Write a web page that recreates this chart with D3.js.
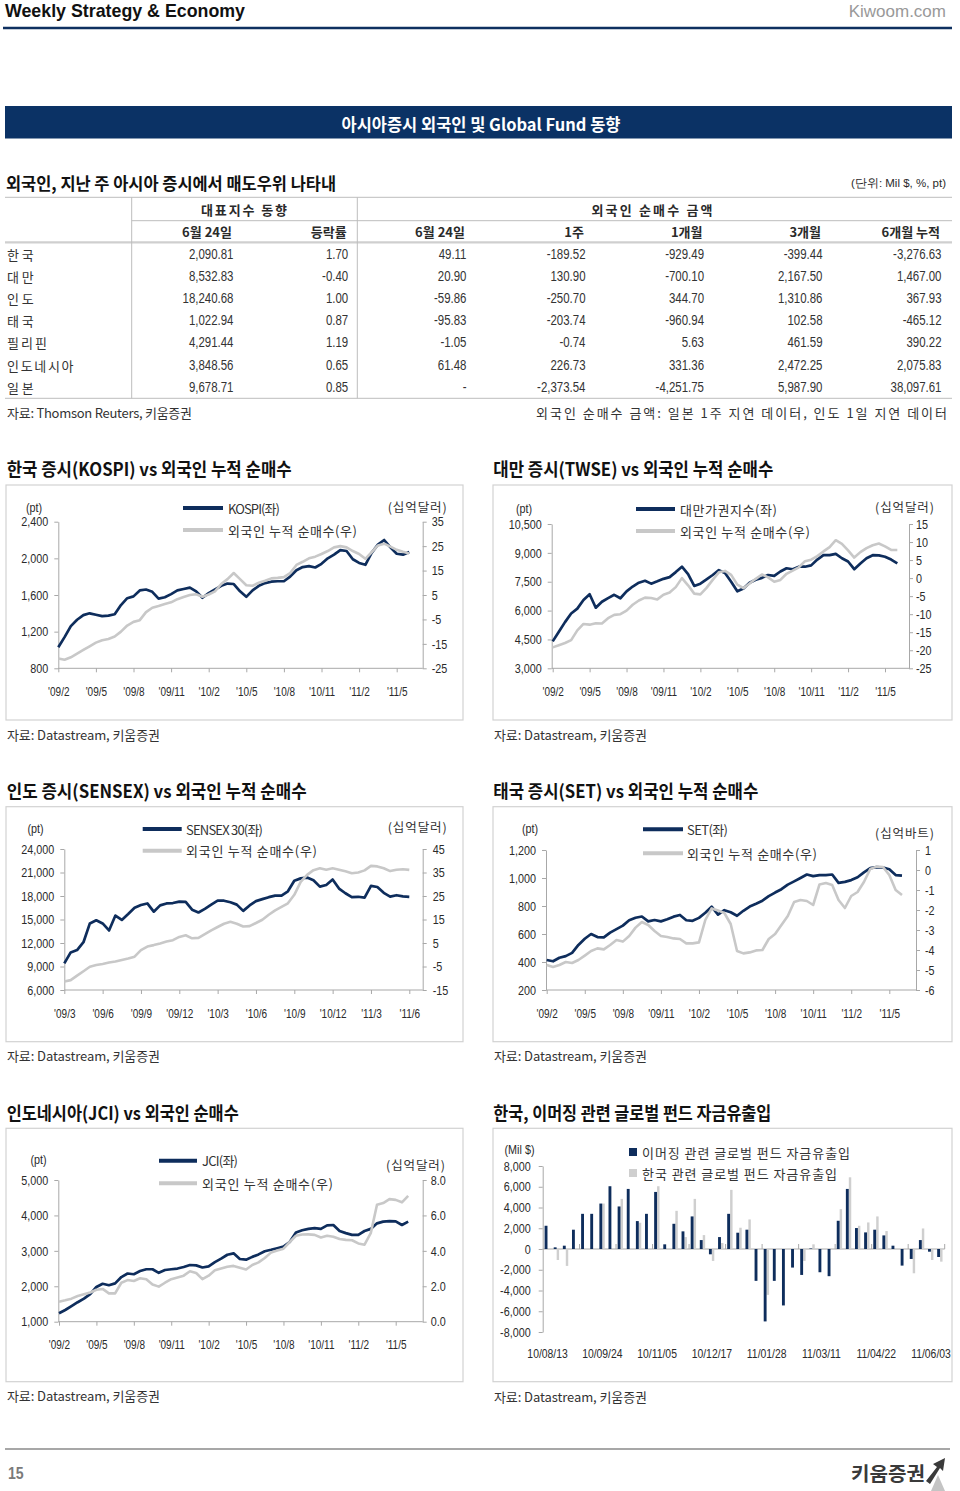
<!DOCTYPE html>
<html><head><meta charset="utf-8">
<script src="https://cdn.jsdelivr.net/npm/d3@7"></script>
<style>html,body{margin:0;padding:0;background:#fff}svg{display:block}</style>
</head><body>
<script>
// ---------------- DATA ----------------
const tableCountries = ['한국','대만','인도','태국','필리핀','인도네시아','일본'];
const tableIndexLevel = [2090.81, 8532.83, 18240.68, 1022.94, 4291.44, 3848.56, 9678.71];
const tableChange = [1.70, -0.40, 1.00, 0.87, 1.19, 0.65, 0.85];
const flowDay = [49.11, 20.90, -59.86, -95.83, -1.05, 61.48, null];
const flow1w = [-189.52, 130.90, -250.70, -203.74, -0.74, 226.73, -2373.54];
const flow1m = [-929.49, -700.10, 344.70, -960.94, 5.63, 331.36, -4251.75];
const flow3m = [-399.44, 2167.50, 1310.86, 102.58, 461.59, 2472.25, 5987.90];
const flow6m = [-3276.63, 1467.00, 367.93, -465.12, 390.22, 2075.83, 38097.61];

const ticksFeb = ["'09/2","'09/5","'09/8","'09/11","'10/2","'10/5","'10/8","'10/11","'11/2","'11/5"];
const ticksMar = ["'09/3","'09/6","'09/9","'09/12","'10/3","'10/6","'10/9","'10/12","'11/3","'11/6"];

// half-month samples, starting at first tick month
const kospi = [1030,1140,1260,1330,1380,1400,1385,1370,1375,1390, 1490,1565,1585,1650,1660,1635,1560,1575,1610,1650, 1665,1680,1640,1570,1620,1660,1700,1725,1720,1640, 1580,1650,1700,1730,1745,1750,1750,1800,1870,1905, 1915,1900,1940,2000,2040,2090,2080,1990,1950,1930, 2060,2150,2200,2120,2050,2040,2070];
const kospiForeign = [-21,-21.5,-20.5,-19,-17.5,-16,-14.5,-13.5,-13,-12, -10,-7.5,-6,-5.3,-2,-0.2,0.5,1.3,2,3.3, 4.2,5.0,5.3,4.3,5.2,6.5,9.5,11.5,14,11.5, 9,8.8,10,10.8,11.8,12,12.3,14,17.3,18.6, 20,20.7,21.8,23,24.5,25,24.5,23,21.8,19.8, 22.5,25.3,26,24.8,23.5,22.7,22];

const twse = [4400,4900,5400,5850,6100,6550,6850,6150,6460,6650, 6820,6640,7000,7250,7450,7550,7400,7520,7650,7740, 8000,8280,7900,7280,7400,7620,7850,8100,7950,7500, 7000,7150,7450,7600,7700,7850,7800,8030,8200,8150, 8280,8280,8350,8650,8880,8880,8950,8720,8550,8150, 8450,8720,8880,8870,8800,8650,8450];
const twseForeign = [-19.2,-18.6,-18.0,-17.2,-14.5,-12.7,-12.9,-12.5,-12.6,-11.1, -10.2,-10.0,-9.0,-7.4,-6.2,-5.4,-5.5,-5.9,-4.6,-4.0, -2.5,0.0,-2.0,-4.3,-4.5,-2.7,-0.5,1.6,2.0,0.9, -1.8,-2.8,-1.5,-0.2,1.0,0.2,-1.0,-0.5,1.2,2.1, 3.0,4.7,5.1,6.1,7.4,8.6,10.5,9.5,7.7,5.7, 7.2,8.3,9.1,9.6,8.8,7.8,7.8];

const sensex = [9400,10800,11100,12100,14500,14900,14500,13600,15500,14950, 15700,16500,16850,17050,16000,16800,17050,17100,17280,17250, 16250,15900,16350,16900,17400,17400,17200,16900,16100,16800, 17350,17600,17850,18050,18050,18600,19950,20250,20350,20000, 19200,19400,20100,18950,18350,17850,17900,17800,19300,19150, 18400,17920,18100,17950,17900];
const sensexForeign = [-11.4,-10.8,-8.9,-7.0,-5.1,-4.4,-3.9,-3.3,-2.9,-2.2, -1.6,-0.8,2.0,3.5,4.1,4.8,5.6,6.2,7.6,8.3, 7.0,7.2,8.8,10.4,11.8,13.2,14.0,13.2,12.0,12.2, 13.5,14.9,17.0,18.9,20.4,21.9,25.5,31.0,34.0,36.0, 36.8,36.2,36.8,36.2,35.5,34.7,35.0,35.9,37.8,37.6, 36.8,35.6,36.2,36.4,36.1];

const setIndex = [414,405,430,442,465,522,566,600,578,576, 610,635,660,698,716,725,690,700,690,705, 724,736,698,694,715,752,795,738,770,755, 730,766,796,816,838,870,896,920,953,976, 1000,1025,1013,1021,1021,1025,965,972,985,1005, 1040,1070,1078,1075,1062,1021,1017];
const setForeign = [-4.75,-4.85,-4.75,-4.6,-4.65,-4.5,-4.28,-4.05,-3.92,-3.97, -3.75,-3.5,-3.58,-3.3,-2.88,-2.6,-2.75,-3.05,-3.3,-3.35, -3.42,-3.45,-3.67,-3.67,-3.62,-2.5,-1.92,-2.02,-2.15,-2.7, -4.05,-4.17,-4.12,-4.02,-4.0,-3.45,-3.2,-2.75,-2.3,-1.6, -1.5,-1.55,-1.75,-0.72,-0.65,-0.75,-1.5,-1.9,-1.3,-1.1, -0.6,0.05,0.17,0.15,-0.25,-1.0,-1.25];

const jci = [1240,1330,1440,1550,1650,1780,1980,2070,2030,2083, 2260,2360,2340,2430,2480,2480,2380,2460,2480,2500, 2545,2600,2590,2530,2560,2680,2780,2890,2930,2770, 2750,2830,2900,2990,3030,3075,3120,3250,3520,3580, 3620,3640,3620,3720,3730,3560,3500,3450,3450,3560, 3620,3777,3824,3840,3830,3730,3824];
const jciForeign = [1.13,1.21,1.3,1.45,1.55,1.65,1.8,1.85,1.6,1.6, 2.2,2.35,2.3,2.45,2.4,2.1,1.98,2.2,2.4,2.5, 2.6,2.85,2.75,2.4,2.6,2.9,3.0,3.1,3.15,3.05, 2.95,3.2,3.35,3.6,3.9,4.02,4.12,4.5,4.85,4.92, 4.93,4.9,4.75,4.85,4.8,4.67,4.62,4.6,4.42,4.35, 5.0,6.6,6.7,6.92,6.88,6.74,7.1];

const fundWeeks = ['10/08/13','10/08/20','10/08/27','10/09/03','10/09/10','10/09/17','10/09/24','10/10/01','10/10/08','10/10/15','10/10/22','10/10/29','10/11/05','10/11/12','10/11/19','10/11/26','10/12/03','10/12/10','10/12/17','10/12/24','10/12/31','11/01/07','11/01/14','11/01/21','11/01/28','11/02/04','11/02/11','11/02/18','11/02/25','11/03/04','11/03/11','11/03/18','11/03/25','11/04/01','11/04/08','11/04/15','11/04/22','11/04/29','11/05/06','11/05/13','11/05/20','11/05/27','11/06/03','11/06/10'];
const emergingFlows = [2240,160,320,1860,3390,3390,4380,6050,4100,5790, 2690,3390,5500,450,2430,1700,3140,860,-510,1150, 3390,1570,1860,-3070,-6980,-3070,-5440,-1790,-2500,50, -2240,-2620,2720,5790,2020,1600,1860,1310,320,-1600, -960,860,-260,-770];
const koreaFlows = [0,-1060,-1630,0,0,0,4380,0,4830,0, 2530,0,6050,0,3680,1150,4830,1340,-1150,580, 5700,2050,2850,0,-4420,0,0,0,-1150,450, 0,0,3840,6910,2240,2560,3140,1730,0,0, -2340,1980,-1060,-1220];

// ---------------- STYLE ----------------
const KR = "'Noto Sans CJK KR','Noto Sans',sans-serif";
const NARROW = "'Liberation Sans Narrow','Arial Narrow','Liberation Sans',Arial,sans-serif";
const NAVY = '#0e2d5c', GRAYL = '#c8c8c8', AXIS = '#a8a8a8', TXT = '#2a2a2a';
const SQUEEZE = 0.83;
const loc = d3.formatLocale({decimal:'.', thousands:',', grouping:[3], currency:['$',''], minus:'-'});
const f2 = loc.format(',.2f'), f0 = loc.format(','), f1 = loc.format('.1f'), fi = loc.format('d');

const svg = d3.select('body').append('svg').attr('width',960).attr('height',1491);
svg.append('rect').attr('width',960).attr('height',1491).attr('fill','#fff');

function squeeze(sel, k) {
  sel.each(function () {
    const w = this.getComputedTextLength();
    d3.select(this).attr('textLength', w * (k || SQUEEZE)).attr('lengthAdjust', 'spacingAndGlyphs');
  });
}
function T(sel, x, y, s, o = {}) {
  const t = sel.append('text').attr('x', x).attr('y', y).text(s)
    .attr('font-family', o.ff || KR).attr('font-size', o.fs || 13)
    .attr('fill', o.fill || TXT).attr('text-anchor', o.anchor || 'start')
    .attr('dominant-baseline', 'central');
  if (o.fw) t.attr('font-weight', o.fw);
  if (o.len) t.attr('textLength', o.len).attr('lengthAdjust', o.adj || 'spacing');
  else if (o.ff === NARROW && !o.plain) squeeze(t);
  return t;
}
function L(sel, x1, y1, x2, y2, c, w) {
  return sel.append('line').attr('x1',x1).attr('y1',y1).attr('x2',x2).attr('y2',y2)
    .attr('stroke', c).attr('stroke-width', w || 1);
}

// ---------------- HEADER ----------------
T(svg, 5, 10, 'Weekly Strategy & Economy', {ff: NARROW, fs: 19, fw: 'bold', fill:'#111', len: 240, adj:'spacingAndGlyphs'});
T(svg, 946, 11, 'Kiwoom.com', {ff: NARROW, fs: 17, fill:'#999', anchor:'end', plain: true});
L(svg, 3, 28, 952, 28, '#0e3060', 2.6);
svg.append('rect').attr('x',5).attr('y',106).attr('width',947).attr('height',32.5).attr('fill','#0b3265');
T(svg, 481, 123, '아시아증시 외국인 및 Global Fund 동향', {fs: 17, fw:'bold', fill:'#fff', anchor:'middle', len: 279, adj:'spacingAndGlyphs'});

T(svg, 6, 182, '외국인, 지난 주 아시아 증시에서 매도우위 나타내', {fs: 17, fw:'bold', fill:'#111', len: 330, adj:'spacingAndGlyphs'});
T(svg, 946, 183, '(단위: Mil $, %, pt)', {ff: NARROW, fs: 11.5, anchor:'end', plain: true});

// ---------------- TABLE ----------------
const tg = svg.append('g');
const TL = '#bdbdbd';
L(tg, 5, 197.3, 952, 197.3, TL, 1);
L(tg, 131.7, 220.7, 952, 220.7, TL, 1);
L(tg, 5, 242.3, 952, 242.3, '#cfcfcf', 2.2);
L(tg, 5, 398.3, 952, 398.3, TL, 1);
L(tg, 131.7, 197.3, 131.7, 398.3, TL, 1);
L(tg, 357.3, 197.3, 357.3, 398.3, TL, 1);
T(tg, 244, 209, '대표지수 동향', {fs: 13, fw:'bold', anchor:'middle', len: 86});
T(tg, 652, 209, '외국인 순매수 금액', {fs: 13, fw:'bold', anchor:'middle', len: 121});
const colRight = [232, 346.7, 465, 584, 702.5, 821, 940];
const colHeads = ['6월 24일','등락률','6월 24일','1주','1개월','3개월','6개월 누적'];
colHeads.forEach((h,i) => T(tg, colRight[i], 231.7, h, {fs: 13, fw:'bold', anchor:'end'}));
const rowY = [254, 276.2, 298.5, 320.7, 342.9, 365.1, 387.3];
const cols = [tableIndexLevel, tableChange, flowDay, flow1w, flow1m, flow3m, flow6m];
tableCountries.forEach((c, r) => {
  T(tg, 7, rowY[r], c, {fs: 13, fill:'#333', len: c.length * 13.3});
  cols.forEach((arr, ci) => {
    const v = arr[r];
    T(tg, colRight[ci] + 1.5, rowY[r], v == null ? '-' : f2(v), {ff: NARROW, fs: 13.8, anchor:'end', fill:'#333'});
  });
});
T(svg, 7, 412, '자료: Thomson Reuters, 키움증권', {fs: 13, fill:'#333', len: 185});
T(svg, 947, 412, '외국인 순매수 금액: 일본 1주 지연 데이터, 인도 1일 지연 데이터', {fs: 13, fill:'#333', anchor:'end', len: 411});

// ---------------- LINE CHARTS ----------------
function styleAxis(a, fs) {
  a.select('.domain').attr('stroke', AXIS).attr('stroke-width', 1);
  a.selectAll('.tick line').attr('stroke', AXIS);
  const t = a.selectAll('.tick text').attr('font-family', NARROW).attr('font-size', fs || 13).attr('fill', TXT);
  squeeze(t);
  return t;
}
function lineChart(c) {
  const g = svg.append('g');
  T(g, c.title[1], c.title[2], c.title[0], {fs: 18, fw:'bold', fill:'#111', len: c.title[3], adj:'spacingAndGlyphs'});
  g.append('rect').attr('x', c.panel[0]).attr('y', c.panel[1]).attr('width', c.panel[2]).attr('height', c.panel[3])
    .attr('fill','#fff').attr('stroke','#d2d2d2').attr('stroke-width',1.2);
  T(g, c.panel[0] + 1, c.panel[1] + c.panel[3] + 14, '자료: Datastream, 키움증권', {fs: 13, fill:'#333', len: 153});

  const x = d3.scaleLinear().domain([0, 27]).range([c.x0, c.x27]);
  const yL = d3.scaleLinear().domain(c.leftDomain).range([c.yB, c.yT]);
  const yR = d3.scaleLinear().domain(c.rightDomain).range([c.yB, c.yT]);

  const ax = g.append('g').attr('transform', `translate(${c.axL},0)`)
    .call(d3.axisLeft(yL).tickValues(c.leftTicks).tickFormat(c.leftFmt || f0).tickSize(4).tickSizeOuter(0).tickPadding(6));
  const ar = g.append('g').attr('transform', `translate(${c.axR},0)`)
    .call(d3.axisRight(yR).tickValues(c.rightTicks).tickFormat(c.rightFmt || fi).tickSize(4).tickSizeOuter(0).tickPadding(c.rPad || 5));
  styleAxis(ax); styleAxis(ar);

  L(g, c.axL, c.yB, c.axR, c.yB, AXIS, 1);
  const bx = g.append('g').attr('transform', `translate(0,${c.yB})`)
    .call(d3.axisBottom(x).tickValues(d3.range(0, 28, 3)).tickFormat((d,i) => c.xLabels[i]).tickSize(4).tickSizeOuter(0));
  bx.select('.domain').remove();
  bx.selectAll('.tick line').attr('stroke', AXIS);
  const bt = bx.selectAll('.tick text').attr('font-family', NARROW).attr('font-size', 12.5).attr('fill', TXT)
    .attr('y', c.labelY - c.yB).attr('dy', '0.35em');
  squeeze(bt, 0.8);

  const tx = (d, i) => x(i * 0.5);
  const lnL = d3.line().x(tx).y(d => yL(d));
  const lnR = d3.line().x(tx).y(d => yR(d));
  g.append('path').datum(c.main).attr('d', lnL).attr('fill','none').attr('stroke', NAVY).attr('stroke-width', 2.7).attr('stroke-linejoin','round');
  g.append('path').datum(c.foreign).attr('d', lnR).attr('fill','none').attr('stroke', GRAYL).attr('stroke-width', 2.6).attr('stroke-linejoin','round');

  const lg = c.legend;
  L(g, lg.x1, lg.y1, lg.x2, lg.y1, NAVY, 4);
  T(g, lg.tx, lg.y1, lg.name, {fs: 13, fill:'#333', len: lg.nameLen});
  L(g, lg.x1, lg.y2, lg.x2, lg.y2, GRAYL, 4);
  T(g, lg.tx, lg.y2, '외국인 누적 순매수(우)', {fs: 13, fill:'#333', len: lg.len2});
  T(g, c.ptPos[0], c.ptPos[1], '(pt)', {ff: NARROW, fs: 13, anchor:'middle'});
  T(g, c.unitPos[0], c.unitPos[1] - 1.5, c.unitText, {fs: 12.5, anchor:'end', len: 59, fill:'#333'});
}

lineChart({
  title: ['한국 증시(KOSPI) vs 외국인 누적 순매수', 6.7, 468, 285],
  panel: [6, 485, 457, 235],
  x0: 58.3, x27: 396.7, axL: 58.3, axR: 422.7, yT: 521.7, yB: 668.3, labelY: 692,
  leftDomain: [800, 2400], leftTicks: [800, 1200, 1600, 2000, 2400],
  rightDomain: [-25, 35], rightTicks: [-25, -15, -5, 5, 15, 25, 35], rPad: 5,
  xLabels: ticksFeb, main: kospi, foreign: kospiForeign,
  legend: {x1: 183, x2: 223, tx: 228, y1: 508, y2: 530, name: 'KOSPI(좌)', nameLen: 52, len2: 129},
  ptPos: [34, 507.3], unitPos: [446.7, 508.3], unitText: '(십억달러)'
});
lineChart({
  title: ['대만 증시(TWSE) vs 외국인 누적 순매수', 493.3, 468, 280],
  panel: [493, 485, 459, 235],
  x0: 552.7, x27: 885, axL: 551.7, axR: 909, yT: 524, yB: 668.3, labelY: 692,
  leftDomain: [3000, 10500], leftTicks: [3000, 4500, 6000, 7500, 9000, 10500],
  rightDomain: [-25, 15], rightTicks: [-25, -20, -15, -10, -5, 0, 5, 10, 15], rPad: 3,
  xLabels: ticksFeb, main: twse, foreign: twseForeign,
  legend: {x1: 636, x2: 675, tx: 680, y1: 509, y2: 531, name: '대만가권지수(좌)', nameLen: 97, len2: 130},
  ptPos: [524, 508.5], unitPos: [934, 508.3], unitText: '(십억달러)'
});
lineChart({
  title: ['인도 증시(SENSEX) vs 외국인 누적 순매수', 6.7, 790, 300],
  panel: [6, 806.7, 457, 235],
  x0: 64.3, x27: 409.3, axL: 64.3, axR: 422.7, yT: 849, yB: 990, labelY: 1014,
  leftDomain: [6000, 24000], leftTicks: [6000, 9000, 12000, 15000, 18000, 21000, 24000],
  rightDomain: [-15, 45], rightTicks: [-15, -5, 5, 15, 25, 35, 45], rPad: 6,
  xLabels: ticksMar, main: sensex, foreign: sensexForeign,
  legend: {x1: 142.7, x2: 181.7, tx: 186, y1: 829, y2: 850.7, name: 'SENSEX 30(좌)', nameLen: 77, len2: 131},
  ptPos: [35.5, 828.3], unitPos: [446.7, 828.3], unitText: '(십억달러)'
});
lineChart({
  title: ['태국 증시(SET) vs 외국인 누적 순매수', 493.3, 790, 265],
  panel: [493, 806.7, 459, 235],
  x0: 546.7, x27: 889.3, axL: 546, axR: 916, yT: 850, yB: 990, labelY: 1014,
  leftDomain: [200, 1200], leftTicks: [200, 400, 600, 800, 1000, 1200],
  rightDomain: [-6, 1], rightTicks: [-6, -5, -4, -3, -2, -1, 0, 1], rPad: 5,
  xLabels: ticksFeb, main: setIndex, foreign: setForeign,
  legend: {x1: 643, x2: 683, tx: 687, y1: 829.3, y2: 853.3, name: 'SET(좌)', nameLen: 41, len2: 130},
  ptPos: [530, 828.3], unitPos: [934, 834], unitText: '(십억바트)'
});
lineChart({
  title: ['인도네시아(JCI) vs 외국인 순매수', 6.7, 1112, 232],
  panel: [6, 1128.3, 457, 253.4],
  x0: 59, x27: 395.7, axL: 58.3, axR: 422.7, yT: 1180, yB: 1321.7, labelY: 1344.3,
  leftDomain: [1000, 5000], leftTicks: [1000, 2000, 3000, 4000, 5000],
  rightDomain: [0, 8], rightTicks: [0, 2, 4, 6, 8], rightFmt: f1, rPad: 4,
  xLabels: ticksFeb, main: jci, foreign: jciForeign,
  legend: {x1: 159, x2: 197, tx: 202, y1: 1160.7, y2: 1183.3, name: 'JCI(좌)', nameLen: 36, len2: 131},
  ptPos: [38.5, 1159.3], unitPos: [445, 1165.7], unitText: '(십억달러)'
});

// ---------------- BAR CHART ----------------
(function () {
  const g = svg.append('g');
  T(g, 493.3, 1112, '한국, 이머징 관련 글로벌 펀드 자금유출입', {fs: 18, fw:'bold', fill:'#111', len: 278, adj:'spacingAndGlyphs'});
  g.append('rect').attr('x', 493).attr('y', 1128.3).attr('width', 459).attr('height', 253.4)
    .attr('fill','#fff').attr('stroke','#d2d2d2').attr('stroke-width',1.2);
  T(g, 494, 1396.7, '자료: Datastream, 키움증권', {fs: 13, fill:'#333', len: 153});

  const x = d3.scaleBand().domain(fundWeeks).range([543, 944.7]);
  const inner = d3.scaleBand().domain(['em','kr']).range([1.6, 7.4]).paddingInner(0.02);
  const y = d3.scaleLinear().domain([-8000, 8000]).range([1332, 1166]);

  const ay = g.append('g').attr('transform', 'translate(542.7,0)')
    .call(d3.axisLeft(y).tickValues(d3.range(-8000, 8001, 2000)).tickFormat(f0).tickSize(4).tickSizeOuter(0).tickPadding(8));
  styleAxis(ay);

  L(g, 542.7, y(0), 944.7, y(0), AXIS, 1);
  d3.range(4, fundWeeks.length + 1, 4).forEach(i => {
    const xx = i < fundWeeks.length ? x(fundWeeks[i]) : x.range()[1];
    L(g, xx, y(0) - 5, xx, y(0), AXIS, 1);
  });

  const bars = g.append('g');
  bars.selectAll('rect.kr').data(koreaFlows).join('rect')
    .attr('x', (d,i) => x(fundWeeks[i]) + inner('kr')).attr('width', inner.bandwidth() * 0.85)
    .attr('y', d => y(Math.max(0, d))).attr('height', d => Math.abs(y(d) - y(0)))
    .attr('fill', '#cfcfcf');
  bars.selectAll('rect.em').data(emergingFlows).join('rect')
    .attr('x', (d,i) => x(fundWeeks[i]) + inner('em')).attr('width', inner.bandwidth())
    .attr('y', d => y(Math.max(0, d))).attr('height', d => Math.abs(y(d) - y(0)))
    .attr('fill', NAVY);

  fundWeeks.forEach((w, i) => {
    if (i % 6 === 0) T(g, x(w) + x.bandwidth() / 2, 1354.3, w, {ff: NARROW, fs: 12.5, anchor:'middle'});
  });

  T(g, 519.5, 1149.3, '(Mil $)', {ff: NARROW, fs: 13, anchor:'middle'});
  g.append('rect').attr('x', 629).attr('y', 1148).attr('width', 8).attr('height', 8).attr('fill', NAVY);
  T(g, 642, 1152, '이머징 관련 글로벌 펀드 자금유출입', {fs: 13, fill:'#333', len: 208});
  g.append('rect').attr('x', 629).attr('y', 1169).attr('width', 8).attr('height', 8).attr('fill', '#cfcfcf');
  T(g, 642, 1173, '한국 관련 글로벌 펀드 자금유출입', {fs: 13, fill:'#333', len: 195});
})();

// ---------------- FOOTER ----------------
L(svg, 5, 1449, 950, 1449, '#8a8a8a', 1.5);
T(svg, 8, 1473, '15', {ff: NARROW, fs: 17, fw: 'bold', fill: '#7a7a7a'});
T(svg, 851, 1472, '키움증권', {fs: 19, fw: 'bold', fill: '#3a3a3a', len: 74, adj:'spacingAndGlyphs'});
svg.append('path').attr('d', 'M931,1491 L938,1475 L945,1491 Z').attr('fill', '#c4c4c4');
svg.append('path').attr('d', 'M926,1481 L937,1467 L933,1464 L945,1458 L943,1471 L940,1468 L930,1484 Z').attr('fill', '#3a3a3a');
</script>
</body></html>
